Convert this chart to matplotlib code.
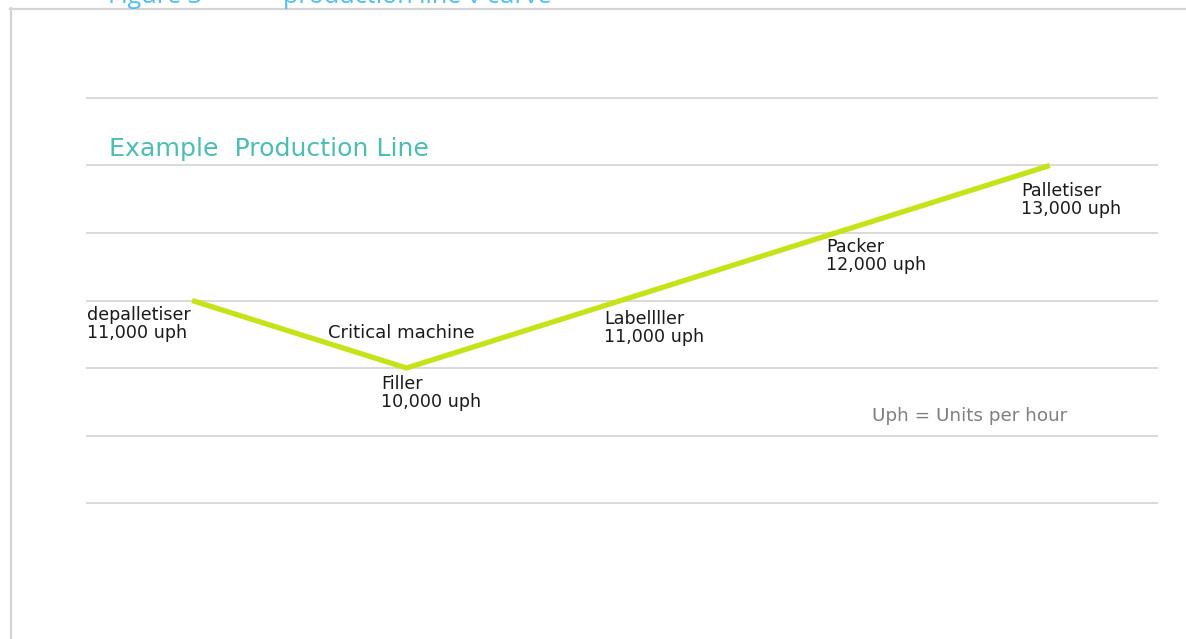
import matplotlib
matplotlib.use("Agg")
import matplotlib.pyplot as plt
from matplotlib.lines import Line2D

machines = ["depalletiser", "Filler", "Labellller", "Packer", "Palletiser"]
rates = [11000, 10000, 11000, 12000, 13000]
rate_labels = ["11,000 uph", "10,000 uph", "11,000 uph", "12,000 uph", "13,000 uph"]
yticks = [8000, 9000, 10000, 11000, 12000, 13000, 14000]

plt.rcParams['font.family'] = ['DejaVu Sans']

fig = plt.figure(figsize=(11.86, 6.39), dpi=100)
W, H = 1186, 639
ax = fig.add_axes([87 / W, 1 - 503 / H, (1157 - 87) / W, (503 - 98) / H])

x = list(range(len(machines)))
ax.plot(x, rates, color="#c6e318", lw=3.8, solid_capstyle="butt", zorder=3)
ax.set_xlim(-0.49, 4.5)
ax.set_ylim(8000, 14000)
ax.set_yticks(yticks)
ax.yaxis.grid(True, color="#d9d9d9", lw=1.4)
for gl in ax.get_ygridlines():
    gl.set_clip_on(False)
ax.set_axisbelow(True)
ax.tick_params(left=False, bottom=False, labelleft=False, labelbottom=False)
for s in ax.spines.values():
    s.set_visible(False)

offsets = [(-105, -6), (-25, -7), (-17, -9), (-9, -5), (-29, -17)]
for i, (name, lab) in enumerate(zip(machines, rate_labels)):
    ax.annotate(f"{name}\n{lab}", xy=(i, rates[i]), xytext=offsets[i],
                textcoords="offset pixels", ha="left", va="top",
                fontsize=12.6, color="#1a1a1a", linespacing=1.0)

ax.annotate("Critical machine", xy=(1, rates[1]), xytext=(-78, 35),
            textcoords="offset pixels", ha="left", va="center",
            fontsize=13.0, color="#1a1a1a")

ax.text((872 - 87) / 1070, (503 - 416) / 405, "Uph = Units per hour",
        transform=ax.transAxes, ha="left", va="center", fontsize=13.2,
        color="#7f7f7f")
ax.text((109 - 87) / 1070, (503 - 149) / 405, "Example  Production Line",
        transform=ax.transAxes, ha="left", va="center", fontsize=18.2,
        color="#4dbdb3")

# page frame
fig.add_artist(Line2D([10.5 / W, 10.5 / W], [0, 1 - 8 / H], transform=fig.transFigure,
                      color="#d4d4d4", lw=1.6))
fig.add_artist(Line2D([10 / W, 1], [1 - 8.5 / H, 1 - 8.5 / H], transform=fig.transFigure,
                      color="#d4d4d4", lw=1.6))

# clipped caption at the very top (cut off in the reference too)
fig.text(108 / W, 1 - 3 / H, "Figure 3", ha="left", va="baseline",
         fontsize=18.2, color="#4fc0f0", family=["Open Sans", "DejaVu Sans"])
fig.text(283 / W, 1 - 3 / H, "production line v curve", ha="left", va="baseline",
         fontsize=18.2, color="#4fc0f0", family=["Open Sans", "DejaVu Sans"])

fig.savefig("out.png", dpi=100)
